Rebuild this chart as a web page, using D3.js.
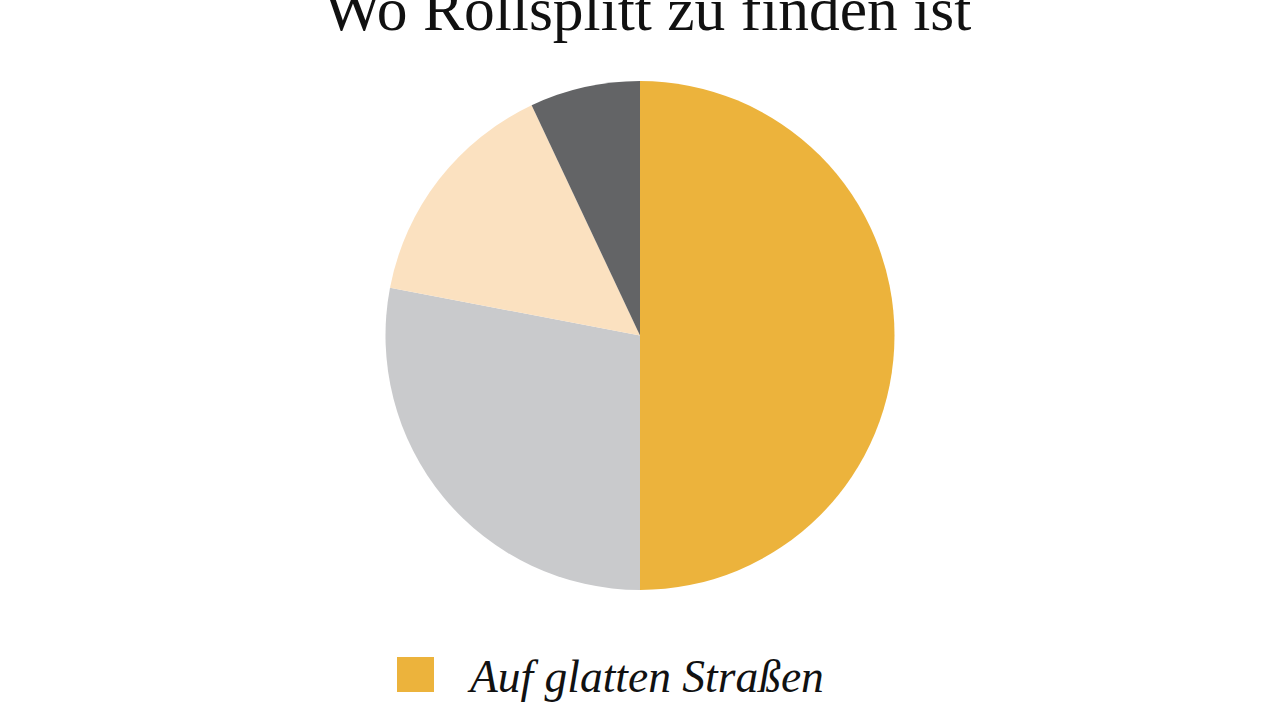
<!DOCTYPE html>
<html><head><meta charset="utf-8">
<script src="https://cdn.jsdelivr.net/npm/d3@7"></script>
<style>html,body{margin:0;padding:0;background:#fff;overflow:hidden}</style>
</head><body>
<svg id="chart" width="1280" height="720"></svg>
<script>
const title = "Wo Rollsplitt zu finden ist";
const categories = ["Auf glatten Straßen", "Auf Gehwegen", "Auf Radwegen", "Sonstiges"];
const values = [50, 28, 15, 7];
const colors = ["#ECB33C", "#C9CACC", "#FBE1C0", "#636466"];

const svg = d3.select("#chart");
const cx = 640, cy = 335.5, r = 254.5;

svg.append("text")
  .attr("x", 647.5).attr("y", 30)
  .attr("text-anchor", "middle")
  .attr("font-family", "Liberation Serif, serif")
  .attr("font-size", 61.5)
  .attr("fill", "#111")
  .text(title);

const pie = d3.pie().sort(null).value(d => d)(values);
const arc = d3.arc().innerRadius(0).outerRadius(r);
const color = d3.scaleOrdinal().domain(categories).range(colors);

svg.append("g").attr("transform", `translate(${cx},${cy})`)
  .selectAll("path").data(pie).join("path")
  .attr("d", arc)
  .attr("fill", (d, i) => color(categories[i]));

const lg = svg.append("g");
categories.forEach((c, i) => {
  const y = 657 + i * 110;
  lg.append("rect").attr("x", 397).attr("y", y).attr("width", 37).attr("height", 35).attr("fill", color(c));
  lg.append("text").attr("x", 470).attr("y", y + 35)
    .attr("font-family", "Liberation Serif, serif")
    .attr("font-style", "italic")
    .attr("font-size", 45.5)
    .attr("fill", "#111")
    .text(c);
});
</script>
</body></html>
